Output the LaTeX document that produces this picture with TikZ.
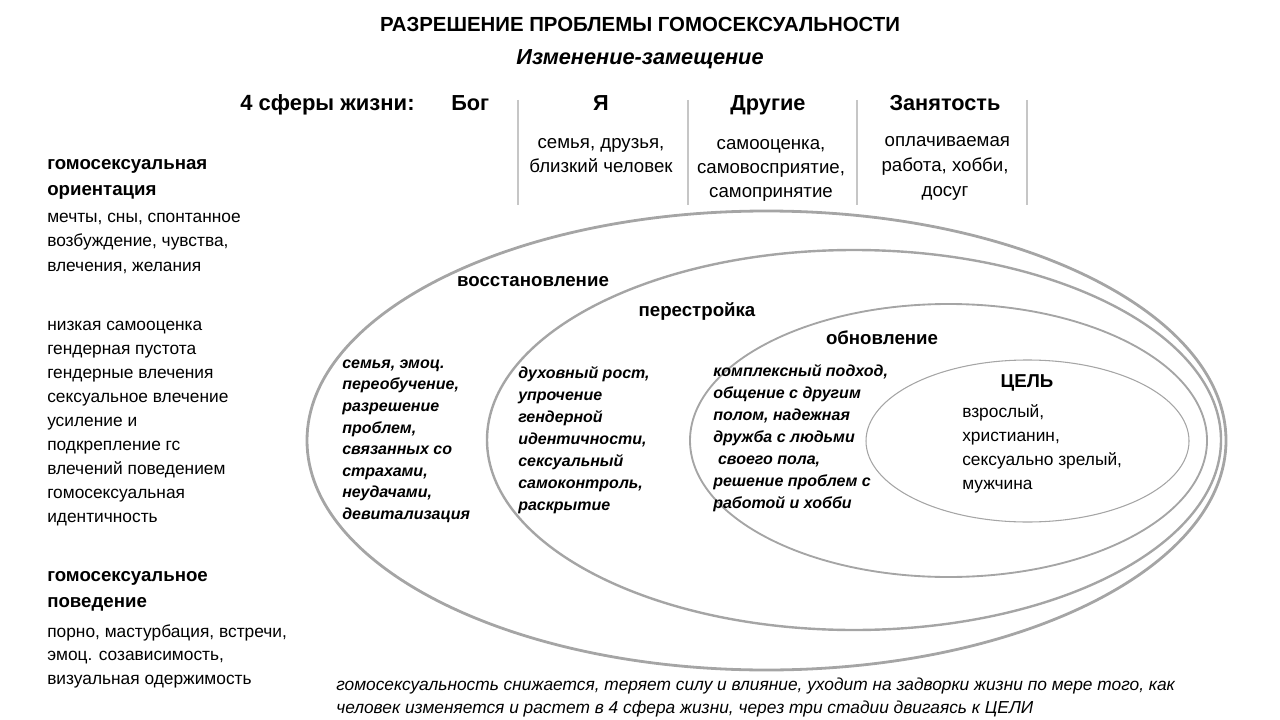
\documentclass[tikz,border=0pt]{standalone}
\usepackage{fontspec}
\setmainfont{Liberation Sans}
\usetikzlibrary{positioning}
\definecolor{RingGray}{RGB}{165,165,165}
\definecolor{BarGray}{RGB}{198,198,198}

\begin{document}
\begin{tikzpicture}[x=0.75pt,y=-0.75pt,
  txt/.style={inner sep=0pt,align=left,anchor=base west,font=\fontsize{13}{18}\selectfont},
  bold/.style={inner sep=0pt,align=left,anchor=base west,font=\fontsize{14}{19.5}\selectfont\bfseries},
  stage/.style={inner sep=0pt,anchor=base,font=\fontsize{14}{18}\selectfont\bfseries},
  sphere/.style={inner sep=0pt,anchor=base,font=\fontsize{16.3}{18}\selectfont\bfseries},
  topnote/.style={inner sep=0pt,align=center,anchor=base,font=\fontsize{14}{18}\selectfont},
  work/.style={inner sep=0pt,align=left,anchor=base west,font=\fontsize{12}{16.5}\selectfont\bfseries\itshape},
  ring/.style={draw=RingGray},
  bar/.style={draw=BarGray,line width=1.5pt}
]
\useasboundingbox (0,0) rectangle (1280,720);

% title
\node[stage,font=\fontsize{15.3}{18}\selectfont\bfseries] (title) at (640,32) {РАЗРЕШЕНИЕ ПРОБЛЕМЫ ГОМОСЕКСУАЛЬНОСТИ};
\node[stage,font=\fontsize{16.3}{18}\selectfont\bfseries\itshape] (method) at (640,65) {Изменение-замещение};

% four spheres
\node[sphere,anchor=base west,font=\fontsize{16.5}{18}\selectfont\bfseries] (spheres) at (240,111) {4 сферы жизни:};
\node[sphere,anchor=base west] (god) at (451,111) {Бог};
\node[sphere] (self) at (601,111) {Я};
\node[sphere] (others) at (768,111) {Другие};
\node[sphere] (job) at (945,111) {Занятость};
\node[topnote] (selfnote) at (601,173) {семья, друзья,\\близкий человек};
\node[topnote] (othersnote) at (771,198) {самооценка,\\самовосприятие,\\самопринятие};
\node[topnote,font=\fontsize{14}{19}\selectfont] (jobnote) at (945,197) {\hspace*{0.25em}оплачиваемая\\работа, хобби,\\досуг};
\foreach \x in {518,688,857,1027}
  \draw[bar] (\x,100) -- (\x,205);

% left column
\node[bold] (orient) at (47,196) {гомосексуальная\\ориентация};
\node[txt] (dreams) at (47,271) {мечты, сны, спонтанное\\возбуждение, чувства,\\влечения, желания};
\node[txt] (causes) at (47,522) {низкая самооценка\\гендерная пустота\\гендерные влечения\\сексуальное влечение\\усиление и\\подкрепление гс\\влечений поведением\\гомосексуальная\\идентичность};
\node[bold] (behav) at (47,607) {гомосексуальное\\поведение};
\node[txt,font=\fontsize{13}{17.6}\selectfont] (acts) at (47,684) {порно, мастурбация, встречи,\\эмоц. созависимость,\\визуальная одержимость};

% rings
\draw[ring,line width=2.1pt] (766.5,440.5) ellipse [x radius=459.5,y radius=229.5];
\draw[ring,line width=1.8pt] (854,440) ellipse [x radius=367,y radius=190];
\draw[ring,line width=1.4pt] (948.5,440.5) ellipse [x radius=258.5,y radius=136.5];
\draw[ring,line width=0.8pt] (1027.5,441) ellipse [x radius=161.5,y radius=81];

% stages
\node[stage] (restore) at (533,286) {восстановление};
\node[stage] (rebuild) at (697,316) {перестройка};
\node[stage] (renew) at (882,344) {обновление};
\node[stage] (goal) at (1027,387) {ЦЕЛЬ};

\node[work,font=\fontsize{12}{16.2}\selectfont\bfseries\itshape] (restorenote) at (342,519.5) {семья, эмоц.\\переобучение,\\разрешение\\проблем,\\связанных со\\страхами,\\неудачами,\\девитализация};
\node[work] (rebuildnote) at (518,510.5) {духовный рост,\\упрочение\\гендерной\\идентичности,\\сексуальный\\самоконтроль,\\раскрытие};
\node[work] (renewnote) at (713,508.5) {комплексный подход,\\общение с другим\\полом, надежная\\дружба с людьми\\\hspace*{0.3em}своего пола,\\решение проблем с\\работой и хобби};
\node[txt] (goalnote) at (962,489) {взрослый,\\христианин,\\сексуально зрелый,\\мужчина};

% bottom note
\node[txt,font=\fontsize{13}{17.25}\selectfont\itshape] (summary) at (336,713) {гомосексуальность снижается, теряет силу и влияние, уходит на задворки жизни по мере того, как\\человек изменяется и растет в 4 сфера жизни, через три стадии двигаясь к ЦЕЛИ};
\end{tikzpicture}
\end{document}
